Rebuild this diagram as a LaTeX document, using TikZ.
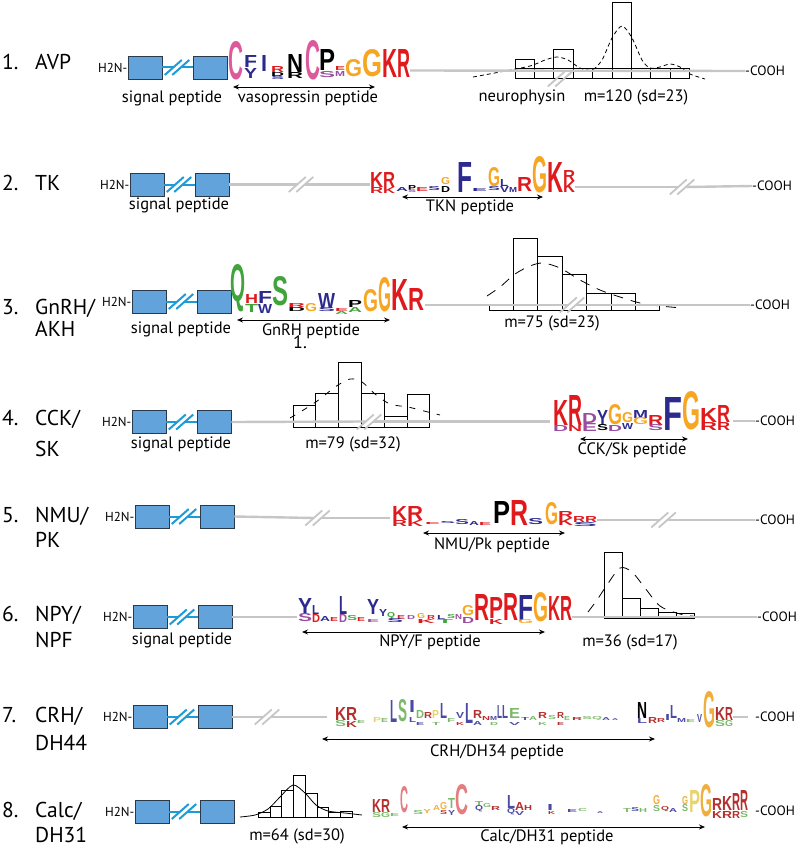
\documentclass[tikz,border=0pt]{standalone}
\usepackage{fontspec}
\setmainfont{PT Sans}
\newfontfamily\logofont{Liberation Sans}
\usetikzlibrary{arrows.meta}

\definecolor{sigblue}{HTML}{62A3DB}
\definecolor{sigedge}{HTML}{2B3A4A}
\definecolor{brkblue}{HTML}{1E9BD7}
\definecolor{bbgray}{HTML}{C6C6C6}
\definecolor{lgred}{HTML}{E0191C}
\definecolor{lgorange}{HTML}{F6A623}
\definecolor{lggreen}{HTML}{40A43A}
\definecolor{lgnavy}{HTML}{2D2A8E}
\definecolor{lgpurple}{HTML}{9A4C9F}
\definecolor{lgpink}{HTML}{DC5A9C}
\definecolor{lgdred}{HTML}{B4302E}
\definecolor{lgpale}{HTML}{F0AE3C}
\definecolor{lgsage}{HTML}{7CB96A}
\definecolor{lgslate}{HTML}{4B4BA6}
\definecolor{lgsalmon}{HTML}{E27E80}
\definecolor{lgyellow}{HTML}{E9D46C}

\tikzset{
  brk/.pic={
    \draw (-12.25,7.5) -- (4.75,-7.5);
    \draw (-4.75,7.5) -- (12.25,-7.5);
  }
}

\begin{document}
\begin{tikzpicture}[x=1pt, y=-1pt,
  sigbox/.style={draw=sigedge, fill=sigblue, line width=0.8pt, minimum width=33.5pt, minimum height=23pt, inner sep=0pt, anchor=west},
  backbone/.style={bbgray, line width=2.4pt},
  bluelink/.style={brkblue, line width=2pt},
  graybrk/.style={bbgray, line width=1.8pt},
  hlab/.style={font=\fontsize{13}{15}\selectfont, inner sep=0pt, anchor=east},
  numlab/.style={font=\fontsize{21.5}{26}\selectfont, inner sep=0pt, anchor=base west},
  txt/.style={font=\fontsize{16.5}{18}\selectfont, inner sep=0pt},
  cooh/.style={font=\fontsize{13.5}{15}\selectfont, inner sep=0pt, anchor=west},
  hist/.style={black, line width=0.7pt},
  dcurve/.style={black, line width=0.8pt},
  pep/.style={{Stealth[length=6pt,width=5pt]}-{Stealth[length=6pt,width=5pt]}, line width=0.8pt},
  lgch/.style={anchor=south west, inner sep=0pt, outer sep=0pt, font=\logofont\bfseries}
]
\useasboundingbox (0,0) rectangle (796,848);

% row labels
\node[numlab] (num1) at (2,70) {1.};
\node[numlab] (nm1) at (35,70) {AVP};
\node[numlab] (num2) at (2,190) {2.};
\node[numlab] (nm2) at (35,190) {TK};
\node[numlab] (num3) at (2,314) {3.};
\node[numlab] (nm3a) at (35,314) {GnRH/};
\node[numlab] (nm3b) at (35,336) {AKH};
\node[numlab] (num4) at (2,425) {4.};
\node[numlab] (nm4a) at (35,425) {CCK/};
\node[numlab] (nm4b) at (35,456) {SK};
\node[numlab] (num5) at (2,522) {5.};
\node[numlab] (nm5a) at (35,522) {NMU/};
\node[numlab] (nm5b) at (35,547) {PK};
\node[numlab] (num6) at (2,621) {6.};
\node[numlab] (nm6a) at (35,621) {NPY/};
\node[numlab] (nm6b) at (35,647) {NPF};
\node[numlab] (num7) at (2,722) {7.};
\node[numlab] (nm7a) at (35,722) {CRH/};
\node[numlab] (nm7b) at (35,750) {DH44};
\node[numlab] (num8) at (2,817) {8.};
\node[numlab] (nm8a) at (35,817) {Calc/};
\node[numlab] (nm8b) at (35,842) {DH31};

% signal peptide part of every precursor
\foreach \r/\x/\y in {1/128/67.5, 2/130/184.5, 3/132/301.5, 4/132/422, 5/135/516.5, 6/133/617, 7/133/717, 8/135/811.5} {
  \node[sigbox] (sa\r) at (\x,\y) {};
  \node[sigbox] (sb\r) at (\x+65,\y) {};
  \node[hlab] (h\r) at (\x-0.5,\y) {H2N-};
  \draw[bluelink] (sa\r.east) -- (\x+45.25,\y);
  \draw[bluelink] (sb\r.west) -- (\x+52.75,\y);
  \pic[bluelink] at (\x+49,\y) {brk};
}

% ---------- 1. AVP
\draw[hist] (515,78) rectangle (689,68);
\foreach \a/\t in {515/59, 534.4/68, 553.8/49, 573.2/68, 592.6/68, 612/2, 631.4/68, 650.8/68, 670.2/68}
  \draw[hist] (\a,78) rectangle ++(19.4,\t-78);
\draw[dcurve, dash pattern=on 4pt off 3pt] plot[smooth] coordinates {(473,77) (500,72) (530,66) (545,60) (557,57) (568,60) (580,68) (592,70) (602,60) (612,38) (622,26) (632,38) (642,60) (650,68) (660,67) (670,64) (680,67) (690,74) (705,79)};
\node[cooh] (co1) at (745,71) {-COOH};
\coordinate (lg1) at (410,70.5);
\draw[backbone] (lg1) -- (co1.west);
\pic[graybrk] at (560,79) {brk};
\foreach \px/\py/\pw/\ph/\pc/\pl in {
  228/80/15/38/lgpink/C, 244/68/13/12/lgnavy/F, 244/79/13/10/lgnavy/Y,
  261/72/6/16/lgnavy/I, 271/73/13/6/lgred/R, 271/77/13/4/black/D, 271/80/13/3/lgnavy/S,
  287/73/16/18/black/N, 287/79/16/6/black/R, 305/80/15/39/lgpink/C,
  319/71/16/21/black/P, 319/78/16/6/lgpurple/S, 335/71/10/4/lgred/E, 335/77/10/5/lgpurple/M,
  345/77/17/17/lgorange/G, 362/77/20/27/lgorange/G, 382/78/15/28/lgred/K, 397/78/13/28/lgred/R}
  \node[lgch, text=\pc] at (\px,\py) {\resizebox{\pw pt}{\ph pt}{\pl}};
\coordinate (pa1) at (233,87);
\coordinate (pb1) at (375,87);
\draw[pep] (pa1) -- (pb1);
\node[txt] (sp1) at (172,98) {signal peptide};
\node[txt] (pp1) at (308,98) {vasopressin peptide};
\node[txt] (nph1) at (522,97) {neurophysin};
\node[txt] (st1) at (636,97) {m=120 (sd=23)};

% ---------- 2. TK
\node[cooh] (co2) at (752,186) {-COOH};
\draw[backbone] (sb2.east) -- (297.25,184.5);
\draw[backbone] (304.75,184.5) -- (370,184.5);
\pic[graybrk] at (301,184.5) {brk};
\draw[backbone] (575,187) -- (678.25,187);
\draw[backbone] (685.75,187) -- (co2.west);
\pic[graybrk] at (682,187) {brk};
\foreach \px/\py/\pw/\ph/\pc/\pl in {
  370/187/13/15/lgred/K, 383/187/12/15/lgred/R, 370/193/13/6/lgred/R, 383/193/12/6/lgred/K,
  396/191/12/4/lgnavy/A, 408/190/8/5/black/P, 408/193/8/3/lgpurple/S, 416/191/12/4/lgred/E,
  428/191/12/4/lgnavy/S, 441/185/9/7/lgorange/G, 441/192/9/6/black/D,
  457/192/15/30/lgnavy/F, 472/191/15/3/lgnavy/E, 488/187/12/19/lgorange/G, 488/191/12/4/lgnavy/S,
  500/186/8/7/lgnavy/L, 500/192/9/6/lgnavy/V, 509/192/8/5/lgnavy/M, 517/191/15/14/lgred/R,
  532/193/15/36/lgorange/G, 547/192/16/30/lgred/K, 563/181/12/11/lgred/R, 563/192/12/11/lgred/K}
  \node[lgch, text=\pc] at (\px,\py) {\resizebox{\pw pt}{\ph pt}{\pl}};
\coordinate (pa2) at (402,197);
\coordinate (pb2) at (543,197);
\draw[pep] (pa2) -- (pb2);
\node[txt] (sp2) at (179,205) {signal peptide};
\node[txt] (pp2) at (470,207) {TKN peptide};

% ---------- 3. GnRH/AKH
\foreach \a/\t in {489/304, 513.4/238, 537.8/256, 562.2/274, 586.6/293, 611/293, 635.4/304}
  \draw[hist] (\a,310) rectangle ++(24.4,\t-310);
\draw[dcurve, dash pattern=on 10pt off 8pt] plot[smooth] coordinates {(487,296) (500,287) (515,274) (530,266) (543,263) (560,268) (580,280) (600,290) (620,297) (640,303) (660,306) (682,308)};
\node[cooh] (co3) at (750,305) {-COOH};
\draw[backbone] (425,305) -- (568.25,305);
\draw[backbone] (575.75,305) -- (co3.west);
\pic[graybrk] at (572,305) {brk};
\foreach \px/\py/\pw/\ph/\pc/\pl in {
  230/312/15/37/lggreen/Q, 245/303/13/9/lgred/H, 245/312/13/8/lggreen/T,
  258/303/14/12/lgnavy/F, 258/313/14/9/lgnavy/W, 272/306/16/29/lggreen/S,
  288/307/17/4/lgred/R, 288/311/17/4/black/D, 305/312/12/8/lgorange/G,
  318/308/17/15/lgnavy/W, 318/312/17/4/lgnavy/S, 335/311/13/3/lgred/E, 335/314/13/3/lggreen/A,
  348/307/14/7/black/P, 348/312/14/5/lggreen/A, 363/312/15/22/lgorange/G,
  378/312/13/34/lgorange/G, 391/310/17/31/lgred/K, 408/310/16/22/lgred/R}
  \node[lgch, text=\pc] at (\px,\py) {\resizebox{\pw pt}{\ph pt}{\pl}};
\coordinate (pa3) at (237,320);
\coordinate (pb3) at (390,320);
\draw[pep] (pa3) -- (pb3);
\node[txt] (sp3) at (181,329) {signal peptide};
\node[numlab, font=\fontsize{18}{20}\selectfont] (stray3) at (293,348) {1.};
\node[txt] (pp3) at (311,331) {GnRH peptide};
\node[txt] (st3) at (552,323) {m=75 (sd=23)};

% ---------- 4. CCK/SK
\foreach \a/\t in {293/405, 315.8/393, 338.6/362, 361.4/393, 384.2/416, 407/394}
  \draw[hist] (\a,427) rectangle ++(22.8,\t-427);
\draw[dcurve, dash pattern=on 6pt off 8pt] plot[smooth] coordinates {(290,418) (305,409) (320,399) (335,387) (350,379) (362,382) (375,394) (390,404) (408,407) (420,410) (440,415)};
\node[cooh] (co4) at (755,421) {-COOH};
\draw[backbone] (sb4.east) -- (365.25,421.5);
\draw[backbone] (372.75,421.5) -- (550,421.5);
\pic[graybrk] at (369,422) {brk};
\draw[backbone] (733,421) -- (co4.west);
\foreach \px/\py/\pw/\ph/\pc/\pl in {
  553/425/15/25/lgred/K, 568/425/14/30/lgred/R, 582/423/15/10/lgpurple/D, 597/425/11/15/lgnavy/Y,
  608/425/14/20/lgorange/G, 622/423/11/10/lgorange/G, 622/429/11/6/lgnavy/W,
  633/418/15/8/lgnavy/M, 633/425/15/7/lgorange/G, 648/425/15/10/lgred/R,
  663/430/19/33/lgnavy/F, 682/430/18/38/lgorange/G, 700/422/17/14/lgred/K, 700/430/17/8/lgred/R,
  717/422/13/17/lgred/R, 717/430/13/8/lgred/R,
  553/431/15/6/lgpurple/D, 568/431/14/6/lgred/N, 582/431/15/8/lgpurple/E,
  597/431/11/6/black/S, 608/431/14/6/lgpurple/D, 648/431/15/6/lgpurple/S}
  \node[lgch, text=\pc] at (\px,\py) {\resizebox{\pw pt}{\ph pt}{\pl}};
\coordinate (pa4) at (580,439);
\coordinate (pb4) at (688,439);
\draw[pep] (pa4) -- (pb4);
\node[txt] (sp4) at (181,444) {signal peptide};
\node[txt] (st4) at (353,444) {m=79 (sd=32)};
\node[txt] (pp4) at (632,450) {CCK/Sk peptide};

% ---------- 5. NMU/PK
\node[cooh] (co5) at (755,520) {-COOH};
\draw[backbone] (sb5.east) -- (313.75,518);
\draw[backbone] (321.25,518) -- (390,518);
\pic[graybrk] at (317.5,518) {brk};
\draw[backbone] (597,520) -- (659.75,520);
\draw[backbone] (667.25,520) -- (co5.west);
\pic[graybrk] at (663.5,520) {brk};
\foreach \px/\py/\pw/\ph/\pc/\pl in {
  392/520/15/14/lgred/K, 407/520/16/14/lgred/R, 392/526/15/6/lgred/R, 407/526/16/6/lgred/K,
  425/524/15/2/lgred/E, 440/524/15/2/lgnavy/S, 455/525/14/5/lgnavy/S, 469/525/10/4/lgnavy/A,
  479/525/12/3/lgred/E, 493/523/17/22/black/P, 510/525/18/25/lgred/R, 528/525/15/6/lgnavy/S,
  545/525/13/22/lgorange/G, 558/518/15/7/lgred/R, 558/525/15/7/lgred/K,
  573/522/12/6/lgred/R, 585/522/12/6/lgred/R, 573/527/24/4/lgnavy/S}
  \node[lgch, text=\pc] at (\px,\py) {\resizebox{\pw pt}{\ph pt}{\pl}};
\coordinate (pa5) at (423,533);
\coordinate (pb5) at (565,533);
\draw[pep] (pa5) -- (pb5);
\node[txt] (pp5) at (492,545) {NMU/Pk peptide};

% ---------- 6. NPY/NPF
\foreach \a/\t in {604/552, 622/598, 640/608, 658/612, 676/613}
  \draw[hist] (\a,618) rectangle ++(18,\t-618);
\draw[dcurve, dash pattern=on 10pt off 8pt] plot[smooth] coordinates {(588,612) (597,600) (607,585) (620,568) (632,572) (645,588) (660,606) (680,614) (700,617)};
\node[cooh] (co6) at (757,617) {-COOH};
\draw[backbone] (sb6.east) -- (297,617);
\draw[backbone] (572,617) -- (co6.west);
\foreach \px/\py/\pw/\ph/\pc/\pl in {
  298/614/14/16/lgnavy/Y, 312/614/7/9/lgnavy/L, 298/622/14/8/lgpurple/S, 312/622/8/8/lgred/D,
  320/621/10/5/lgnavy/A, 330/621/8/4/lgred/E, 339/614/8/18/lgnavy/L, 347/621/10/5/lggreen/S,
  339/622/8/8/lgpurple/D, 357/621/8/4/lgred/E,
  367/614/12/15/lgnavy/Y, 379/616/8/7/lgnavy/Y, 387/619/8/5/lggreen/Q, 397/619/8/4/lgred/E,
  407/619/8/4/lgpurple/D, 417/619/8/5/lgorange/G, 427/619/8/4/lgred/R, 437/619/8/4/lgnavy/L,
  447/619/8/4/lggreen/S, 455/619/7/5/lgpurple/N,
  367/622/12/3/lgpurple/E, 387/623/16/4/lgnavy/S, 417/623/18/4/lgred/K, 437/623/16/4/lggreen/T,
  462/616/12/10/lgorange/G, 474/620/15/26/lgred/R, 489/618/14/21/lgred/P, 503/620/15/27/lgred/R,
  518/620/15/25/lgnavy/F, 533/622/15/29/lgorange/G, 548/620/12/24/lgred/K, 560/620/12/24/lgred/R,
  462/623/12/6/lgpurple/D, 489/624/14/5/lgred/K, 518/624/15/4/lgorange/G}
  \node[lgch, text=\pc] at (\px,\py) {\resizebox{\pw pt}{\ph pt}{\pl}};
\coordinate (pa6) at (302,632);
\coordinate (pb6) at (545,632);
\draw[pep] (pa6) -- (pb6);
\node[txt] (sp6) at (182,640) {signal peptide};
\node[txt] (pp6) at (430,642) {NPY/F peptide};
\node[txt] (st6) at (630,642) {m=36 (sd=17)};

% ---------- 7. CRH/DH44
\node[cooh] (co7) at (755,717) {-COOH};
\draw[backbone] (sb7.east) -- (263.25,717);
\draw[backbone] (270.75,717) -- (327,717);
\pic[graybrk] at (267,717) {brk};
\draw[backbone] (733,717) -- (748,717);
\foreach \px/\py/\pw/\ph/\pc/\pl in {
  335/720/11/13/lgdred/K, 346/720/11/13/lgdred/R, 335/727/11/6/lgsage/S, 346/727/11/6/lgdred/K,
  357/723/8/3/lgsage/E, 373/722/8/5/lgyellow/P, 381/722/7/4/lgsage/E,
  390/722/7/22/lgslate/L, 398/722/9/22/lgsage/S,
  409/712/6/12/lgslate/I, 409/722/7/5/lgslate/L, 416/718/8/8/lgsage/D, 424/718/8/6/lgdred/R,
  432/718/7/8/lgyellow/P, 440/718/7/15/lgslate/L, 447/722/8/4/lgsage/F, 456/718/8/6/lgslate/V,
  465/723/8/20/lgslate/L, 473/718/9/8/lgdred/R, 482/720/8/4/lgdred/N, 490/720/7/4/lgslate/M,
  497/718/5/13/lgslate/L, 502/718/6/13/lgslate/L, 509/718/11/10/lgsage/E, 521/720/8/3/lgslate/T,
  529/720/8/4/lgsage/A, 538/718/9/6/lgdred/R, 548/720/8/4/lgsage/S, 557/718/7/6/lgdred/R,
  564/720/6/4/lgsage/E, 572/720/10/3/lgdred/R, 582/720/10/3/lgsage/S, 592/720/10/3/lgsage/Q,
  602/720/8/3/lgslate/A, 612/720/6/2/lgslate/A,
  416/725/8/3/lgslate/E, 432/725/8/3/lgsage/T, 456/725/8/3/lgdred/K, 473/725/9/4/lgslate/A,
  490/725/8/3/lgsage/D, 509/725/11/3/lgslate/V, 538/725/9/3/lgsage/K, 557/725/7/3/lgdred/E,
  637/718/10/16/black/N, 637/723/10/5/lgslate/L, 648/723/9/6/lgdred/R, 657/722/8/4/lgdred/R,
  665/720/5/6/lgslate/I, 670/718/7/13/lgslate/L, 677/722/9/4/lgslate/M, 686/722/9/3/lgsage/E,
  697/722/5/8/lgslate/V, 703/728/12/36/lgpale/G, 715/720/10/13/lgdred/K, 725/720/8/13/lgdred/R,
  715/727/10/6/lgsage/S, 725/727/8/6/lgsage/G}
  \node[lgch, text=\pc] at (\px,\py) {\resizebox{\pw pt}{\ph pt}{\pl}};
\coordinate (pa7) at (322,739);
\coordinate (pb7) at (655,739);
\draw[pep] (pa7) -- (pb7);
\node[txt] (pp7) at (497,752) {CRH/DH34 peptide};

% ---------- 8. Calc/DH31
\foreach \a/\t in {258/812, 269.75/806, 281.5/790, 293.25/775, 305/793, 316.75/807, 328.5/812, 340.25/811}
  \draw[hist, line width=0.5pt] (\a,817) rectangle ++(11.75,\t-817);
\draw[dcurve] plot[smooth] coordinates {(240,817) (255,815) (268,809) (280,797) (293,785) (305,793) (316,805) (328,811) (345,813) (362,815)};
\node[cooh] (co8) at (755,811) {-COOH};
\foreach \px/\py/\pw/\ph/\pc/\pl in {
  372/812/9/13/lgdred/K, 381/812/9/13/lgdred/R, 372/818/9/5/lgsage/S, 381/818/9/5/lgsage/G,
  390/816/9/3/lgsage/E, 400/813/8/26/lgsalmon/C, 413/815/10/4/lgsage/S, 423/813/8/4/lgpale/Y,
  433/810/7/5/lgpale/A, 440/810/7/7/lgpale/G, 440/815/7/4/lgdred/S, 448/808/7/10/lgsage/T,
  448/815/7/5/lgslate/Y, 455/815/13/30/lgsalmon/C, 475/806/8/5/lgsage/T, 475/812/8/5/lgslate/Q,
  483/808/8/4/lgsage/G, 491/810/9/4/lgdred/R, 507/808/8/13/lgslate/L, 515/810/9/8/lgdred/A,
  524/810/8/5/lgdred/H, 507/815/8/5/lgslate/Q, 515/815/9/4/lgslate/V,
  547/810/6/6/lgslate/I, 548/814/7/3/lgdred/K, 567/812/10/3/lgslate/E, 578/812/9/3/lgsage/C,
  597/813/6/2/lgslate/A, 623/812/8/4/lgsage/T, 631/812/8/4/lgslate/S, 639/812/8/4/lgsage/H,
  653/805/7/9/lgpale/G, 653/812/7/6/lgsage/S, 661/812/8/4/lgdred/Q, 669/812/8/4/lgslate/A,
  682/805/6/8/lgpale/G, 682/812/6/7/lgsage/S, 689/812/11/22/lgyellow/P, 700/817/12/32/lgpale/G,
  712/810/10/12/lgdred/R, 722/810/10/14/lgdred/K, 732/810/8/17/lgdred/R, 740/810/8/20/lgdred/R,
  712/818/10/7/lgdred/K, 722/818/10/7/lgdred/R, 732/818/8/7/lgdred/R, 740/818/8/6/lgsage/S}
  \node[lgch, text=\pc] at (\px,\py) {\resizebox{\pw pt}{\ph pt}{\pl}};
\coordinate (pa8) at (402,827);
\coordinate (pb8) at (705,827);
\draw[pep] (pa8) -- (pb8);
\node[txt] (st8) at (297,836) {m=64 (sd=30)};
\node[txt] (pp8) at (547,837) {Calc/DH31 peptide};
\end{tikzpicture}
\end{document}
